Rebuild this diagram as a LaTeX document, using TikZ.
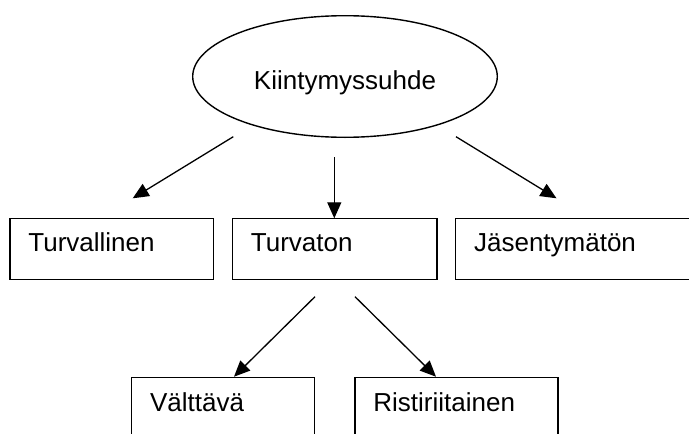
\documentclass[tikz,border=0pt]{standalone}
\usepackage{fontspec}
\setmainfont{Liberation Sans}
\usetikzlibrary{shapes.geometric,arrows.meta}
\begin{document}
\begin{tikzpicture}[x=1pt,y=-1pt,
  every node/.style={font=\fontsize{26}{30}\selectfont},
  box/.style={draw, line width=1.4pt, anchor=north west, outer sep=0pt,
    inner xsep=18.4pt, inner ysep=0pt, align=left,
    text height=33.4pt, text depth=27.6pt},
  arr/.style={line width=1.3pt, -{Triangle[length=16pt,width=14pt]}}]
\useasboundingbox (0,0) rectangle (689,434);
\clip (0,0) rectangle (689,434);
\node[draw, ellipse, line width=1.4pt, minimum width=304.6pt, minimum height=121.6pt,
  inner sep=0pt, text height=25.6pt, text depth=0pt] (root) at (345,76.5) {Kiintymyssuhde};
\node[box, text width=166.9pt] (b1) at (10,218.3) {Turvallinen};
\node[box, text width=167.6pt] (b2) at (232.5,218.3) {Turvaton};
\node[box, text width=213.2pt] (b3) at (455.7,218.3) {Jäsentymätön};
\node[box, text width=145.8pt] (b4) at (131.7,377.7) {Välttävä};
\node[box, text width=166.2pt] (b5) at (355,377.7) {Ristiriitainen};
\draw[arr] ([shift={(-111.7,60.2)}]root.center) -- ([shift={(122.7,-20)}]b1.north west);
\draw[arr] ([shift={(-10.7,80.8)}]root.center) -- ([shift={(101.8,0)}]b2.north west);
\draw[arr] ([shift={(111,60.2)}]root.center) -- ([shift={(100.8,-20)}]b3.north west);
\draw[arr] ([shift={(82.5,78.4)}]b2.north west) -- ([shift={(102.3,-1)}]b4.north west);
\draw[arr] ([shift={(122.5,78.4)}]b2.north west) -- ([shift={(81,-1)}]b5.north west);
\end{tikzpicture}
\end{document}
